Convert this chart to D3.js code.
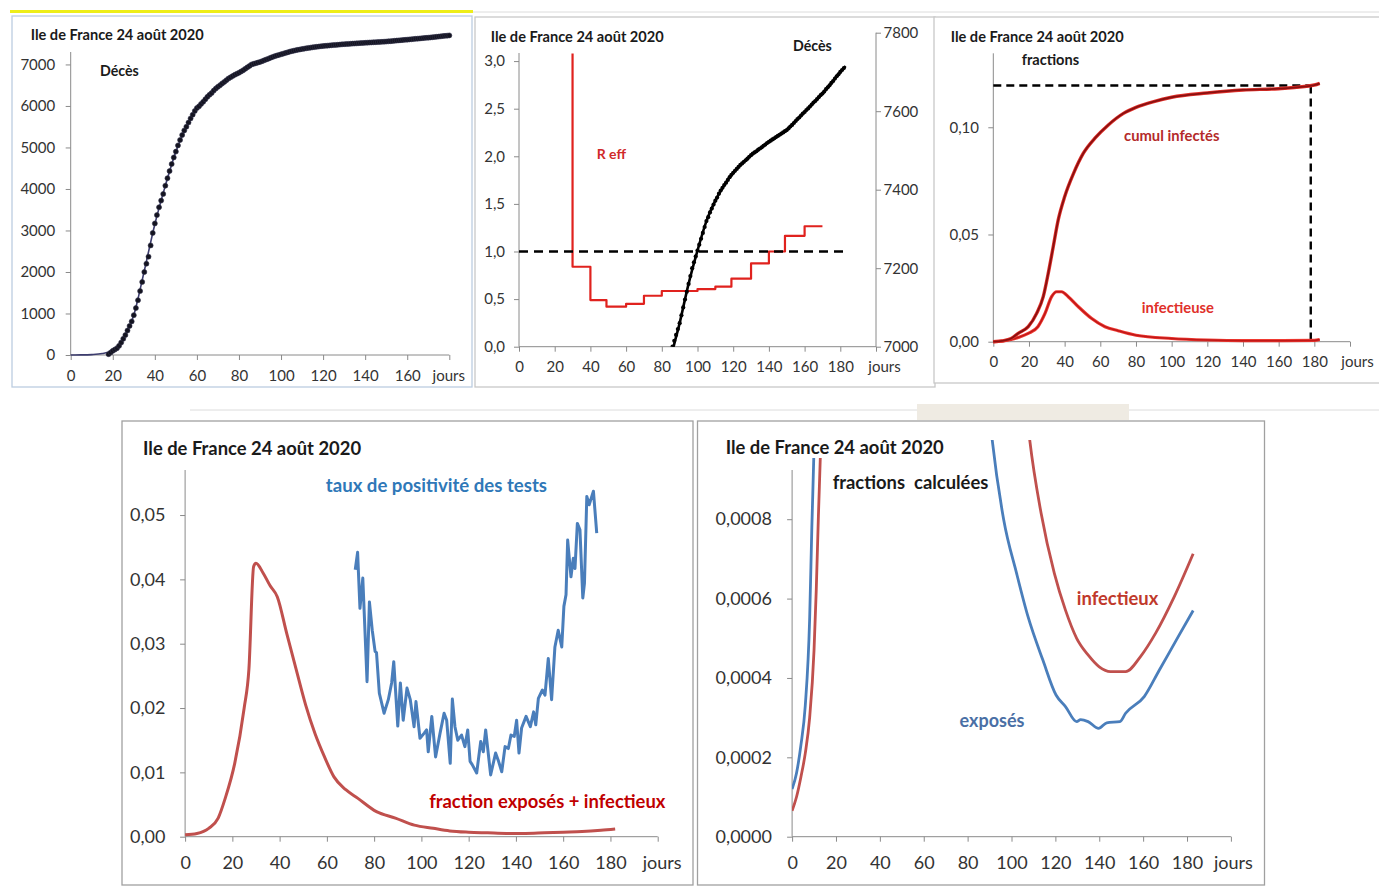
<!DOCTYPE html>
<html><head><meta charset="utf-8">
<script src="https://cdn.jsdelivr.net/npm/d3@7"></script>
<style>
body{margin:0;background:#fff;}
svg{display:block;font-family:Lato,"Open Sans",sans-serif;}
</style></head><body>
<svg id="c" width="1379" height="886"></svg>
<script>
// ---------------- DATA ----------------
const titre = "Ile de France 24 août 2020";
// Décès observés (cumul), un point par jour à partir du jour 18
const decesPremierJour = 18;
const decesValeurs = [20,60,100,130,165,220,300,390,480,590,700,810,960,1130,1320,1540,1760,2000,2200,2370,
 2640,2940,3170,3370,3560,3720,3880,4080,4260,4430,4600,4760,4900,5050,5180,5300,5410,5500,5600,5700,
 5790,5880,5950,5990,6050,6100,6160,6220,6270,6310,6370,6420,6460,6500,6540,6580,6620,6660,6690,6720,
 6750,6775,6800,6830,6860,6895,6930,6965,7000,7015,7030,7045,7060,7080,7100,7120,7140,7160,7180,7200,
 7215,7230,7245,7260,7275,7290,7305,7320,7330,7342,7352,7362,7372,7380,7390,7398,7405,7412,7418,7425,
 7432,7438,7443,7448,7453,7458,7463,7467,7471,7475,7479,7484,7488,7492,7495,7498,7502,7505,7508,7512,
 7515,7519,7522,7525,7528,7531,7534,7537,7540,7543,7546,7549,7552,7556,7561,7565,7570,7575,7580,7584,
 7589,7594,7598,7603,7607,7612,7617,7622,7626,7631,7636,7641,7645,7650,7656,7661,7666,7672,7677,7683,
 7689,7694,7700,7705,7710];
// Décès modèle
const modeleJours = [0,5,10,15,20,25,30,35,40,45,50,55,60,65,70,75,80,85,90,95,100,105,110,115,120,125,130,135,140,145,150,155,160,165,170,175,180,183];
const modeleDeces = [0,2,10,35,110,390,960,2030,3150,4080,4900,5500,5950,6220,6460,6660,6800,6965,7060,7160,7245,7320,7372,7412,7443,7467,7488,7505,7522,7537,7552,7575,7598,7622,7645,7672,7700,7715];
// R effectif (paliers)
const reffJours = [30,30,40,49,60,70,80,100,110,119,130,140,149,160,170];
const reffValeurs = [3.08,0.84,0.49,0.42,0.45,0.535,0.585,0.605,0.63,0.715,0.875,1.0,1.165,1.265,1.265];
// Fractions (panneau 3)
const cumulJours = [0,5,10,14,19.6,24.3,28,30.8,33.6,36.4,40,45,50.5,57,64.5,73,80,90,100,120,140,160,180,183];
const cumulValeurs = [0,0.0004,0.0015,0.0039,0.007,0.0132,0.021,0.0319,0.0443,0.0568,0.0676,0.0785,0.0879,0.0949,0.1011,0.1065,0.1093,0.112,0.114,0.116,0.1174,0.118,0.1197,0.1205];
const infectJours = [0,5,10,14,19.6,25,29,32.7,35.5,38.3,42,47.7,55,62.6,70,80,100,120,140,160,180,183];
const infectValeurs = [0,0.0003,0.001,0.002,0.0039,0.007,0.0132,0.021,0.0233,0.0233,0.021,0.0163,0.0109,0.007,0.0051,0.003,0.0015,0.0008,0.0005,0.0005,0.0006,0.001];
const plateauFraction = 0.1195, plateauJour = 178;
// Panneau 4
const eiJours = [0,5,10,14,17,21,25,27,29,30,33,36,39,43,47,51,55,59,63,68,73,81,89,97,105,112,120,128,136,144,152,160,168,176,182];
const eiValeurs = [0.0003,0.0005,0.0013,0.0029,0.006,0.0114,0.020,0.026,0.042,0.0425,0.041,0.039,0.0373,0.0316,0.026,0.0205,0.016,0.0124,0.0093,0.0073,0.006,0.0039,0.0029,0.0018,0.0013,0.0009,0.0007,0.0006,0.0005,0.0005,0.0006,0.0007,0.0008,0.001,0.0012];
const posJours = [72,73,74,75.2,77,78,79.2,80.4,81,82.2,84.2,86,87.4,88.3,90,91.1,92.3,93.9,95.3,96.9,97.7,99.4,101.2,102.2,102.9,104.4,106,107.9,109.6,110.7,112.2,113.1,114.2,115.4,117,118.4,119.6,120.6,121.5,123.4,125.1,126.2,127.2,129.3,131.4,132.5,134,135.4,136.8,137.9,139.3,140.3,141.3,142.4,144.3,146.1,147.5,148.4,149.5,151.2,152.3,153.7,155.1,156.5,157.9,159.4,160.3,161.2,161.9,163.3,164.3,165,166,167.1,168.3,169,170,171,172.8,174.2];
const posValeurs = [0.0415,0.0442,0.0355,0.0402,0.0241,0.0365,0.0321,0.0288,0.0286,0.0223,0.0192,0.0213,0.0239,0.0272,0.0172,0.0239,0.0181,0.0231,0.0213,0.0171,0.021,0.0153,0.0161,0.0166,0.0132,0.0187,0.0124,0.0161,0.0192,0.0181,0.0114,0.0214,0.0171,0.015,0.0158,0.014,0.0166,0.0117,0.0112,0.0099,0.0148,0.0132,0.0166,0.0096,0.013,0.0119,0.0101,0.014,0.0137,0.0158,0.0156,0.0181,0.013,0.0169,0.0187,0.0171,0.0194,0.0174,0.0215,0.0228,0.022,0.0277,0.0213,0.0295,0.0321,0.0295,0.0358,0.0376,0.0461,0.0404,0.0433,0.0417,0.0487,0.0477,0.0371,0.0394,0.0529,0.0516,0.0537,0.0472];
// Panneau 5
const expDebutJours = [0,2,4,6,8,9,10,11];
const expDebutValeurs = [0.00012,0.00016,0.00023,0.00033,0.00055,0.00078,0.00098,0.00125];
const infDebutJours = [0,2,4,6,8,10,11,12,13,14];
const infDebutValeurs = [0.000065,0.0001,0.00015,0.00021,0.0003,0.00047,0.00062,0.00081,0.00098,0.0012];
const expFinJours = [88,91.2,96.4,102.3,107.5,114.3,120.3,124.6,129.7,131.5,134.9,139.7,143.4,149.4,152,160.5,167.4,176,182.8];
const expFinValeurs = [0.00118,0.001,0.0008,0.000664,0.000555,0.000445,0.000357,0.000328,0.00029,0.000295,0.00029,0.000273,0.000287,0.00029,0.000311,0.000353,0.00042,0.000504,0.00057];
const infFinJours = [106,108.3,113.5,119.5,124.6,129.7,134.9,140,145.1,152,158.8,165.7,174.2,182.8];
const infFinValeurs = [0.00112,0.001,0.000815,0.000664,0.000571,0.0005,0.000458,0.000428,0.000416,0.000416,0.000454,0.000513,0.000605,0.000713];
// Graduations
const ticksJours180 = [0,20,40,60,80,100,120,140,160,180];
const ticksJours200 = [0,20,40,60,80,100,120,140,160,180,200];
const ticksDeces = [0,1000,2000,3000,4000,5000,6000,7000];
const ticksReff = [0,0.5,1,1.5,2,2.5,3];
const ticksDecesDroite = [7000,7200,7400,7600,7800];
const ticksFractions = [0,0.05,0.10];
const ticksEI = [0,0.01,0.02,0.03,0.04,0.05];
const ticksCalc = [0,0.0002,0.0004,0.0006,0.0008];

// ---------------- DRAW ----------------
const svg = d3.select("#c");
const AX = "#8a8a8a", TXT = "#333";
const fr = d3.formatLocale({decimal:",",thousands:"",grouping:[3],currency:["",""]});
const zip = (a,b)=>a.map((v,i)=>[v,b[i]]);

// Excel background remnants
svg.append("line").attr("x1",473).attr("x2",1379).attr("y1",12).attr("y2",12).attr("stroke","#dcdcdc");
svg.append("line").attr("x1",190).attr("x2",1379).attr("y1",410).attr("y2",410).attr("stroke","#dcdcdc");
svg.append("rect").attr("x",917).attr("y",404).attr("width",212).attr("height",16).attr("fill","#efebe3");
svg.append("line").attr("x1",10).attr("x2",473).attr("y1",11.5).attr("y2",11.5).attr("stroke","#eeee1a").attr("stroke-width",3);

function frame(x,y,w,h,c){
  svg.append("rect").attr("x",x).attr("y",y).attr("width",w).attr("height",h)
    .attr("fill","#fff").attr("stroke",c).attr("stroke-width",1.3);
}
function text(x,y,s,size,color,opts={}){
  return svg.append("text").attr("x",x).attr("y",y).attr("font-size",size).attr("fill",color)
    .attr("font-weight",opts.bold===false?"normal":"bold").attr("text-anchor",opts.anchor||"start").text(s);
}
function xAxis(x,yPos,ticks,fmt,pad,fs,lastLabelDx){
  const ax = d3.axisBottom(x).tickValues(ticks).tickSize(5).tickPadding(pad).tickFormat(fmt);
  const g = svg.append("g").attr("transform",`translate(0,${yPos})`).call(ax);
  g.attr("font-family",null).attr("font-size",fs);
  g.select(".domain").remove();
  g.selectAll(".tick line").attr("stroke",AX);
  g.selectAll(".tick text").attr("fill",TXT);
  g.selectAll(".tick text").filter(d=>d===ticks[ticks.length-1]).attr("dx",lastLabelDx);
  svg.append("line").attr("x1",x.range()[0]).attr("x2",x.range()[1]).attr("y1",yPos).attr("y2",yPos).attr("stroke",AX);
}
function yAxis(y,xPos,ticks,fmt,pad,fs,right){
  const ax = (right?d3.axisRight(y):d3.axisLeft(y)).tickValues(ticks).tickSize(5).tickPadding(pad).tickFormat(fmt);
  const g = svg.append("g").attr("transform",`translate(${xPos},0)`).call(ax);
  g.attr("font-family",null).attr("font-size",fs);
  g.select(".domain").remove();
  g.selectAll(".tick line").attr("stroke",AX);
  g.selectAll(".tick text").attr("fill",TXT);
  svg.append("line").attr("x1",xPos).attr("x2",xPos).attr("y1",y.range()[0]).attr("y2",y.range()[1]).attr("stroke",AX);
}
function clip(id,x0,y0,x1,y1){
  svg.append("clipPath").attr("id",id).append("rect").attr("x",x0).attr("y",y0).attr("width",x1-x0).attr("height",y1-y0);
  return `url(#${id})`;
}
function path(data,x,y,color,w,curve,extra){
  const p = svg.append("path").datum(data)
    .attr("d",d3.line().x(d=>x(d[0])).y(d=>y(d[1])).curve(curve||d3.curveMonotoneX))
    .attr("fill","none").attr("stroke",color).attr("stroke-width",w).attr("stroke-linejoin","round");
  if(extra) extra(p);
  return p;
}
const jours = (last)=>(d=> d===last ? "jours" : d);

const decesData = decesValeurs.map((v,i)=>[decesPremierJour+i,v]);
const modeleData = zip(modeleJours,modeleDeces);

// ===== Panel 1 =====
frame(12,16,460,371,"#bccde0");
{
  const x = d3.scaleLinear().domain([0,180]).range([70.7,449.3]);
  const y = d3.scaleLinear().domain([0,7300]).range([355,52]);
  yAxis(y,70.7,ticksDeces,d=>d,10.5,15);
  xAxis(x,355,ticksJours180,jours(180),10.5,15,-1);
  path(modeleData.filter(d=>d[0]<=180),x,y,"#3c3c6e",1.6);
  svg.append("g").selectAll("circle").data(decesData.filter(d=>d[0]<=180)).join("circle")
    .attr("cx",d=>x(d[0])).attr("cy",d=>y(d[1])).attr("r",2.5).attr("fill","#141420").attr("stroke","#30304a").attr("stroke-width",0.6);
  text(30.7,40,titre,14.6,"#1a1a1a");
  text(100,76,"Décès",14.2,"#1a1a1a");
}

// ===== Panel 2 =====
frame(475,17,460,370,"#c8c8c8");
{
  const x = d3.scaleLinear().domain([0,200]).range([519,876]);
  const yL = d3.scaleLinear().domain([0,3.085]).range([346.7,53]);
  const yR = d3.scaleLinear().domain([7000,7800]).range([346.7,32.7]);
  yAxis(yL,519,ticksReff,fr.format(".1f"),9,15);
  yAxis(yR,876,ticksDecesDroite,d=>d,2.5,15,true);
  xAxis(x,346.7,ticksJours200,jours(200),10,15,8);
  const cp = clip("cp2",519,32,876,346.7);
  path(zip(reffJours,reffValeurs),x,yL,"#e0221e",2.2,d3.curveStepAfter);
  svg.append("line").attr("x1",x(0)).attr("x2",x(182)).attr("y1",yL(1)).attr("y2",yL(1))
    .attr("stroke","#000").attr("stroke-width",2.6).attr("stroke-dasharray","9,6");
  path(modeleData,x,yR,"#000",2.6,null,p=>p.attr("clip-path",cp));
  svg.append("g").attr("clip-path",cp).selectAll("circle").data(decesData.filter(d=>d[1]>=7000)).join("circle")
    .attr("cx",d=>x(d[0])).attr("cy",d=>yR(d[1])).attr("r",2.1).attr("fill","#000");
  text(490.7,41.5,titre,14.6,"#1a1a1a");
  text(793,51,"Décès",14.2,"#1a1a1a");
  text(596.7,158.5,"R eff",14,"#d02a2a");
}

// ===== Panel 3 =====
frame(934,17,446,366,"#c8c8c8");
{
  const x = d3.scaleLinear().domain([0,200]).range([993.3,1350]);
  const y = d3.scaleLinear().domain([0,0.1345]).range([341.7,53.3]);
  yAxis(y,993.3,ticksFractions,fr.format(".2f"),9.3,15);
  xAxis(x,341.7,ticksJours200,jours(200),9.8,15,7);
  const dash = {"stroke":"#000","stroke-width":2.4,"stroke-dasharray":"8,5"};
  const h = svg.append("line").attr("x1",x(0)).attr("x2",x(plateauJour)).attr("y1",y(plateauFraction)).attr("y2",y(plateauFraction));
  const v = svg.append("line").attr("x1",x(plateauJour)).attr("x2",x(plateauJour)).attr("y1",y(plateauFraction)).attr("y2",y(0));
  for(const k in dash){h.attr(k,dash[k]);v.attr(k,dash[k]);}
  path(zip(infectJours,infectValeurs),x,y,"#f03a32",3.2);
  path(zip(infectJours,infectValeurs),x,y,"#c01818",1.5);
  path(zip(cumulJours,cumulValeurs),x,y,"#e0302a",3.4);
  path(zip(cumulJours,cumulValeurs),x,y,"#8a1010",1.8);
  text(950.7,41.7,titre,14.6,"#1a1a1a");
  text(1021.7,65,"fractions",14.6,"#1a1a1a");
  text(1124,141,"cumul infectés",14.8,"#b42a2a");
  text(1141.7,312.5,"infectieuse",14.8,"#e0302a");
}

// ===== Panel 4 =====
frame(122,421,571,464,"#a0a0a0");
{
  const x = d3.scaleLinear().domain([0,200]).range([185.1,657.7]);
  const y = d3.scaleLinear().domain([0,0.057]).range([836.7,470]);
  yAxis(y,185.1,ticksEI,fr.format(".2f"),14.7,18);
  xAxis(x,836.7,ticksJours200,jours(200),15,18,4);
  path(zip(eiJours,eiValeurs),x,y,"#c0504d",3);
  path(zip(posJours,posValeurs),x,y,"#4a7ebb",3,d3.curveLinear);
  text(143,455,titre,18.4,"#1a1a1a");
  text(325.8,491.5,"taux de positivité des tests",18.6,"#2f78b8");
  text(429.2,807.5,"fraction exposés + infectieux",18.4,"#c00000");
}

// ===== Panel 5 =====
frame(697.5,421,567,464,"#a0a0a0");
{
  const x = d3.scaleLinear().domain([0,200]).range([792.1,1230.9]);
  const y = d3.scaleLinear().domain([0,0.000924]).range([836.7,470]);
  yAxis(y,792.1,ticksCalc,fr.format(".4f"),15.2,18);
  xAxis(x,836.7,ticksJours200,jours(200),15,18,2);
  const cpA = clip("cp5a",792,458,1231,836.7);
  const cpB = clip("cp5b",792,440,1231,836.7);
  const clA = p=>p.attr("clip-path",cpA), clB = p=>p.attr("clip-path",cpB);
  path(zip(expDebutJours,expDebutValeurs),x,y,"#4a7ebb",2.8,null,clA);
  path(zip(infDebutJours,infDebutValeurs),x,y,"#c0504d",2.8,null,clA);
  path(zip(expFinJours,expFinValeurs),x,y,"#4a7ebb",2.8,null,clB);
  path(zip(infFinJours,infFinValeurs),x,y,"#c0504d",2.8,null,clB);
  text(725.7,454,titre,18.4,"#1a1a1a");
  text(832.7,488.5,"fractions  calculées",18.4,"#1a1a1a").style("white-space","pre");
  text(1076.8,605,"infectieux",18.4,"#c0392b");
  text(959.6,727,"exposés",18,"#4a6fa5");
}
</script>
</body></html>
